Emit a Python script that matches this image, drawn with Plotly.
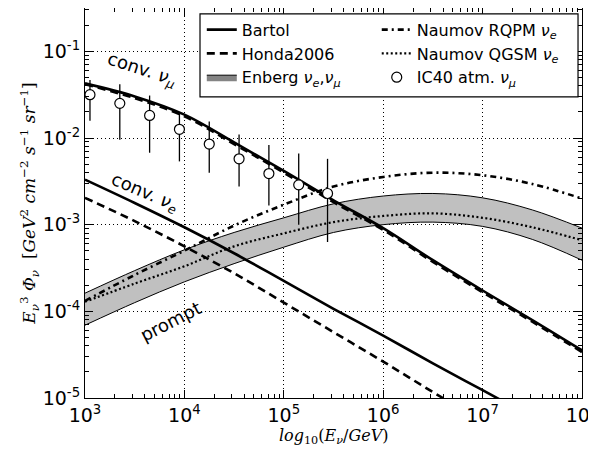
import plotly.graph_objects as go

# ---------------- data ----------------
energy = [1e3, 3.162e3, 1e4, 3.162e4, 1e5, 3.162e5, 1e6, 3.162e6, 1e7, 3.162e7, 1e8]

bartol_numu = [0.0427, 0.0302, 0.0186, 0.00891, 0.00417, 0.00191, 9.12e-4, 3.89e-4, 1.74e-4, 7.94e-5, 3.55e-5]
honda_numu = [0.0417, 0.0288, 0.0178, 0.00851, 0.00398, 0.00182, 8.71e-4, 3.72e-4, 1.66e-4, 7.59e-5, 3.39e-5]
bartol_nue = [0.00331, 0.00178, 9.33e-4, 4.68e-4, 2.24e-4, 1.07e-4, 5.25e-5, 2.51e-5, 1.23e-5, 6.03e-6, 2.95e-6]
honda_nue = [0.00204, 0.00110, 5.62e-4, 2.75e-4, 1.26e-4, 5.75e-5, 2.63e-5, 1.17e-5, 5.37e-6, 2.45e-6, 1.12e-6]

enberg_upper = [1.62e-4, 2.95e-4, 5.13e-4, 8.13e-4, 1.20e-3, 1.74e-3, 2.14e-3, 2.29e-3, 2.04e-3, 1.48e-3, 9.12e-4]
enberg_lower = [6.92e-5, 1.26e-4, 2.19e-4, 3.55e-4, 5.50e-4, 8.13e-4, 1.00e-3, 1.07e-3, 9.55e-4, 6.76e-4, 3.89e-4]

naumov_rqpm = [1.32e-4, 2.63e-4, 5.01e-4, 9.77e-4, 1.70e-3, 2.75e-3, 3.55e-3, 3.98e-3, 3.72e-3, 2.95e-3, 2.00e-3]
naumov_qgsm = [1.29e-4, 2.09e-4, 3.31e-4, 5.62e-4, 7.94e-4, 1.07e-3, 1.26e-3, 1.35e-3, 1.20e-3, 9.33e-4, 6.61e-4]

ic40_energy = [1122, 2239, 4467, 8913, 17783, 35481, 70795, 141254, 275423]
ic40_flux = [0.0316, 0.0251, 0.0182, 0.0126, 0.00851, 0.00575, 0.00389, 0.00288, 0.00229]
ic40_upper = [0.0468, 0.0417, 0.0309, 0.0191, 0.0155, 0.0110, 0.00832, 0.00661, 0.00575]
ic40_lower = [0.0158, 0.00955, 0.00676, 0.00537, 0.00398, 0.00275, 0.00166, 0.00100, 6.31e-4]

x_tick_vals = [1e3, 1e4, 1e5, 1e6, 1e7, 1e8]
x_tick_text = ["10<sup>3</sup>", "10<sup>4</sup>", "10<sup>5</sup>", "10<sup>6</sup>", "10<sup>7</sup>", "10<sup>8</sup>"]
y_tick_vals = [1e-5, 1e-4, 1e-3, 1e-2, 1e-1]
y_tick_text = ["10<sup>-5</sup>", "10<sup>-4</sup>", "10<sup>-3</sup>", "10<sup>-2</sup>", "10<sup>-1</sup>"]

# ---------------- figure ----------------
SANS = "DejaVu Sans"
SERIF = "DejaVu Serif"
LW = 2.6

fig = go.Figure()

# Enberg band
fig.add_trace(go.Scatter(x=energy, y=enberg_lower, mode="lines", line=dict(color="black", width=1, shape="spline"),
                         showlegend=False, hoverinfo="skip"))
fig.add_trace(go.Scatter(x=energy, y=enberg_upper, mode="lines", line=dict(color="black", width=1, shape="spline"),
                         fill="tonexty", fillcolor="#c0c0c0", showlegend=False, hoverinfo="skip"))

fig.add_trace(go.Scatter(x=energy, y=naumov_rqpm, mode="lines",
                         line=dict(color="black", width=LW, dash="6px,4px,2px,4px", shape="spline"),
                         name="Naumov RQPM <i>ν</i><sub><i>e</i></sub>", legend="legend2", legendrank=1))
fig.add_trace(go.Scatter(x=energy, y=naumov_qgsm, mode="lines",
                         line=dict(color="black", width=2.2, dash="2px,2.5px", shape="spline"),
                         name="Naumov QGSM <i>ν</i><sub><i>e</i></sub>", legend="legend2", legendrank=2))

fig.add_trace(go.Scatter(x=energy, y=bartol_numu, mode="lines",
                         line=dict(color="black", width=LW, shape="spline"),
                         name="Bartol", legend="legend", legendrank=1))
fig.add_trace(go.Scatter(x=energy, y=honda_numu, mode="lines",
                         line=dict(color="black", width=LW, dash="8px,5px", shape="spline"),
                         name="Honda2006", legend="legend", legendrank=2))
# legend proxy for band
fig.add_trace(go.Scatter(x=[None], y=[None], mode="lines", fill="toself", fillcolor="#848484",
                         line=dict(color="black", width=1),
                         name="Enberg <i>ν</i><sub><i>e</i></sub>,<i>ν</i><sub><i>μ</i></sub>",
                         legend="legend", legendrank=3))
fig.add_trace(go.Scatter(x=energy, y=bartol_nue, mode="lines",
                         line=dict(color="black", width=LW, shape="spline"),
                         showlegend=False))
fig.add_trace(go.Scatter(x=energy, y=honda_nue, mode="lines",
                         line=dict(color="black", width=LW, dash="8px,5px", shape="spline"),
                         showlegend=False))

err_plus = [u - c for u, c in zip(ic40_upper, ic40_flux)]
err_minus = [c - l for c, l in zip(ic40_flux, ic40_lower)]
fig.add_trace(go.Scatter(x=ic40_energy, y=ic40_flux, mode="markers",
                         marker=dict(symbol="circle", size=10, color="white",
                                     line=dict(color="black", width=1.2)),
                         error_y=dict(type="data", array=err_plus, arrayminus=err_minus,
                                      color="black", thickness=1.3, width=0),
                         name="IC40 atm. <i>ν</i><sub><i>μ</i></sub>", legend="legend2", legendrank=3))

minor_x = [m * 10 ** d for d in range(3, 8) for m in range(2, 10)]
minor_y = [m * 10 ** d for d in range(-5, 0) for m in range(2, 10)]

axis_common = dict(type="log", showline=True, linecolor="black", linewidth=1.2, mirror="allticks",
                   ticks="inside", ticklen=8, tickwidth=1, tickcolor="black",
                   showgrid=True, gridcolor="black", gridwidth=1, griddash="1px,3px",
                   zeroline=False, ticklabeloverflow="allow", automargin=False,
                   tickfont=dict(family=SANS, size=19, color="black"))

fig.update_xaxes(**axis_common, range=[2.99999, 8.00001], tickmode="array", tickvals=x_tick_vals,
                 ticktext=x_tick_text,
                 minor=dict(tickmode="array", tickvals=minor_x, ticks="inside", ticklen=4,
                            tickcolor="black", showgrid=False))
fig.update_yaxes(**axis_common, range=[-5.00001, -0.5], tickmode="array", tickvals=y_tick_vals,
                 ticktext=y_tick_text,
                 minor=dict(tickmode="array", tickvals=minor_y, ticks="inside", ticklen=4,
                            tickcolor="black", showgrid=False),
                 title=dict(text="<i>E</i><sub><i>ν</i></sub><sup>3</sup> <i>Φ</i><sub><i>ν</i></sub>  "
                                 "[<i>GeV</i><sup>2</sup> <i>cm</i><sup>−2</sup> <i>s</i><sup>−1</sup> <i>sr</i><sup>−1</sup>]",
                            font=dict(family=SERIF, size=17, color="black"), standoff=2))

# x-axis title as annotation (keeps it inside the page)
fig.add_annotation(x=0.5, y=-0.098, xref="paper", yref="paper", yanchor="middle",
                   text="<i>log</i><sub>10</sub>(<i>E</i><sub><i>ν</i></sub>/<i>GeV</i>)",
                   showarrow=False, font=dict(family=SERIF, size=16, color="black"))

ann_font = dict(family=SANS, size=18, color="black")
fig.add_annotation(x=3.57, y=-1.22, xref="x", yref="y", text="conv. <i>ν</i><sub><i>μ</i></sub>",
                   showarrow=False, textangle=18, font=ann_font)
fig.add_annotation(x=3.60, y=-2.64, xref="x", yref="y", text="conv. <i>ν</i><sub><i>e</i></sub>",
                   showarrow=False, textangle=23, font=ann_font)
fig.add_annotation(x=3.86, y=-4.12, xref="x", yref="y", text="prompt",
                   showarrow=False, textangle=-27, font=ann_font)

# common frame for the two legend columns
fig.add_shape(type="rect", xref="paper", yref="paper", x0=0.2314, x1=0.992, y0=0.772, y1=0.985,
              line=dict(color="black", width=1.2), fillcolor="white", layer="above")

leg_font = dict(family=SANS, size=16, color="black")
# the page body adds an 8px offset, so the figure is 8px smaller than the window
fig.update_layout(
    width=588, height=442,
    margin=dict(l=77, r=14, t=0, b=52, autoexpand=False),
    paper_bgcolor="white", plot_bgcolor="white",
    legend=dict(x=0.235, y=0.988, xanchor="left", yanchor="top", orientation="v",
                bgcolor="rgba(0,0,0,0)", borderwidth=0, font=leg_font, traceorder="normal"),
    legend2=dict(x=0.587, y=0.988, xanchor="left", yanchor="top", orientation="v",
                 bgcolor="rgba(0,0,0,0)", borderwidth=0, font=leg_font, traceorder="normal"),
)

fig.write_html("out.html")
